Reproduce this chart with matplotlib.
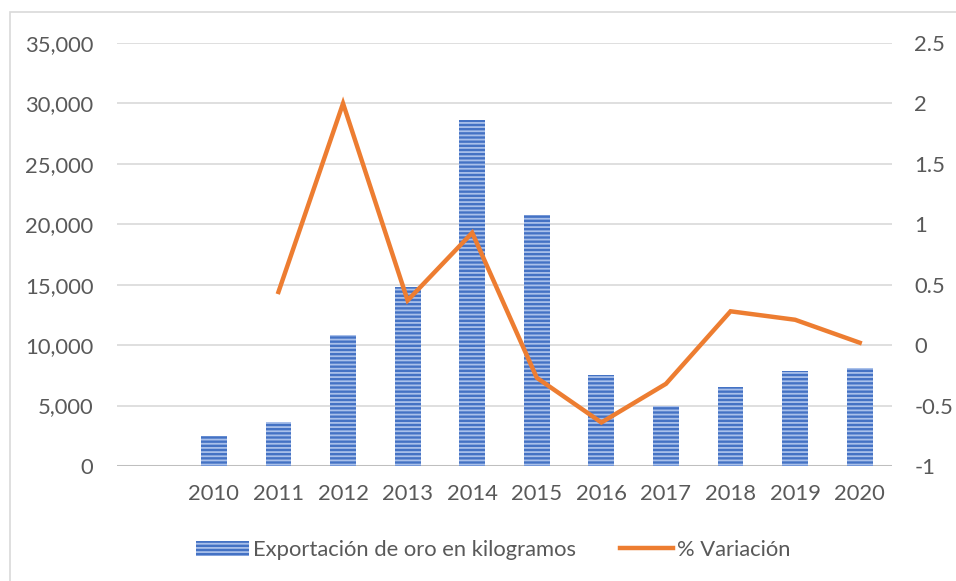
import matplotlib
matplotlib.use("Agg")
import matplotlib.pyplot as plt
from matplotlib.patches import Rectangle, Patch
from matplotlib.lines import Line2D
from matplotlib.ticker import FuncFormatter

plt.rcParams['font.family'] = ['Lato', 'DejaVu Sans']
plt.rcParams['hatch.linewidth'] = 1.3

# data
years = ["", "2010", "2011", "2012", "2013", "2014", "2015", "2016", "2017", "2018", "2019", "2020"]
export_kg = [None, 2500, 3600, 10800, 14800, 28600, 20800, 7500, 5000, 6500, 7900, 8100]
variation = [None, None, 0.44, 2.0, 0.37, 0.93, -0.27, -0.64, -0.32, 0.28, 0.21, 0.02]

text_col = "#595959"
bar_col = "#4472C4"
line_col = "#ED7D31"
fs = 15.8

fig = plt.figure(figsize=(9.56, 5.81), dpi=100)
# outer chart border (partially visible in the original)
fig.patches.append(Rectangle((10 / 956, -0.1), 1.2, 1.1 - 12 / 581,
                             transform=fig.transFigure, fill=False,
                             edgecolor="#D9D9D9", linewidth=1.2))

ax = fig.add_axes([117 / 956, 1 - 466 / 581, (892 - 117) / 956, (466 - 43) / 581])
ax2 = ax.twinx()

xs = list(range(len(years)))
bx = [x for x, v in zip(xs, export_kg) if v is not None]
bv = [v for v in export_kg if v is not None]
ax.bar(bx, bv, width=0.4, color=bar_col, edgecolor="#A9C0EA", hatch="----",
       linewidth=0, zorder=3)

lx = [x for x, v in zip(xs, variation) if v is not None]
lv = [v for v in variation if v is not None]
ax2.plot(lx, lv, color=line_col, linewidth=3.2, solid_joinstyle="miter", zorder=4)

ax.set_xlim(-0.5, len(years) - 0.5)
ax.set_ylim(0, 35000)
ax.set_yticks(range(0, 35001, 5000))
ax.yaxis.set_major_formatter(FuncFormatter(lambda v, p: f"{int(v):,}"))
ax2.set_ylim(-1, 2.5)
ax2.set_yticks([-1, -0.5, 0, 0.5, 1, 1.5, 2, 2.5])
ax2.set_yticklabels(["-1", "-0.5", "0", "0.5", "1", "1.5", "2", "2.5"])

ax.set_xticks(xs)
ax.set_xticklabels(years)

ax.grid(axis="y", color="#D9D9D9", linewidth=1.2, zorder=0)
ax.set_axisbelow(True)
for a in (ax, ax2):
    for s in a.spines.values():
        s.set_visible(False)
ax.axhline(0, color="#BFBFBF", linewidth=2.2, zorder=2)

ax.tick_params(axis="y", length=0, pad=17, labelsize=fs, labelcolor=text_col)
ax.tick_params(axis="x", length=0, pad=13, labelsize=fs, labelcolor=text_col)
ax2.tick_params(axis="y", length=0, pad=16, labelsize=fs, labelcolor=text_col)

handles = [Patch(facecolor=bar_col, edgecolor="#A9C0EA", hatch="----", linewidth=0),
           Line2D([0], [0], color=line_col, linewidth=3.2)]
leg = fig.legend(handles, ["Exportación de oro en kilogramos", "% Variación"],
                 loc="center", bbox_to_anchor=(0.516, 1 - 550 / 581), ncol=2,
                 frameon=False, fontsize=fs, handlelength=2.4, handleheight=0.7,
                 columnspacing=2.0, handletextpad=0.2)
for t in leg.get_texts():
    t.set_color(text_col)

fig.savefig("out.png", dpi=100)
